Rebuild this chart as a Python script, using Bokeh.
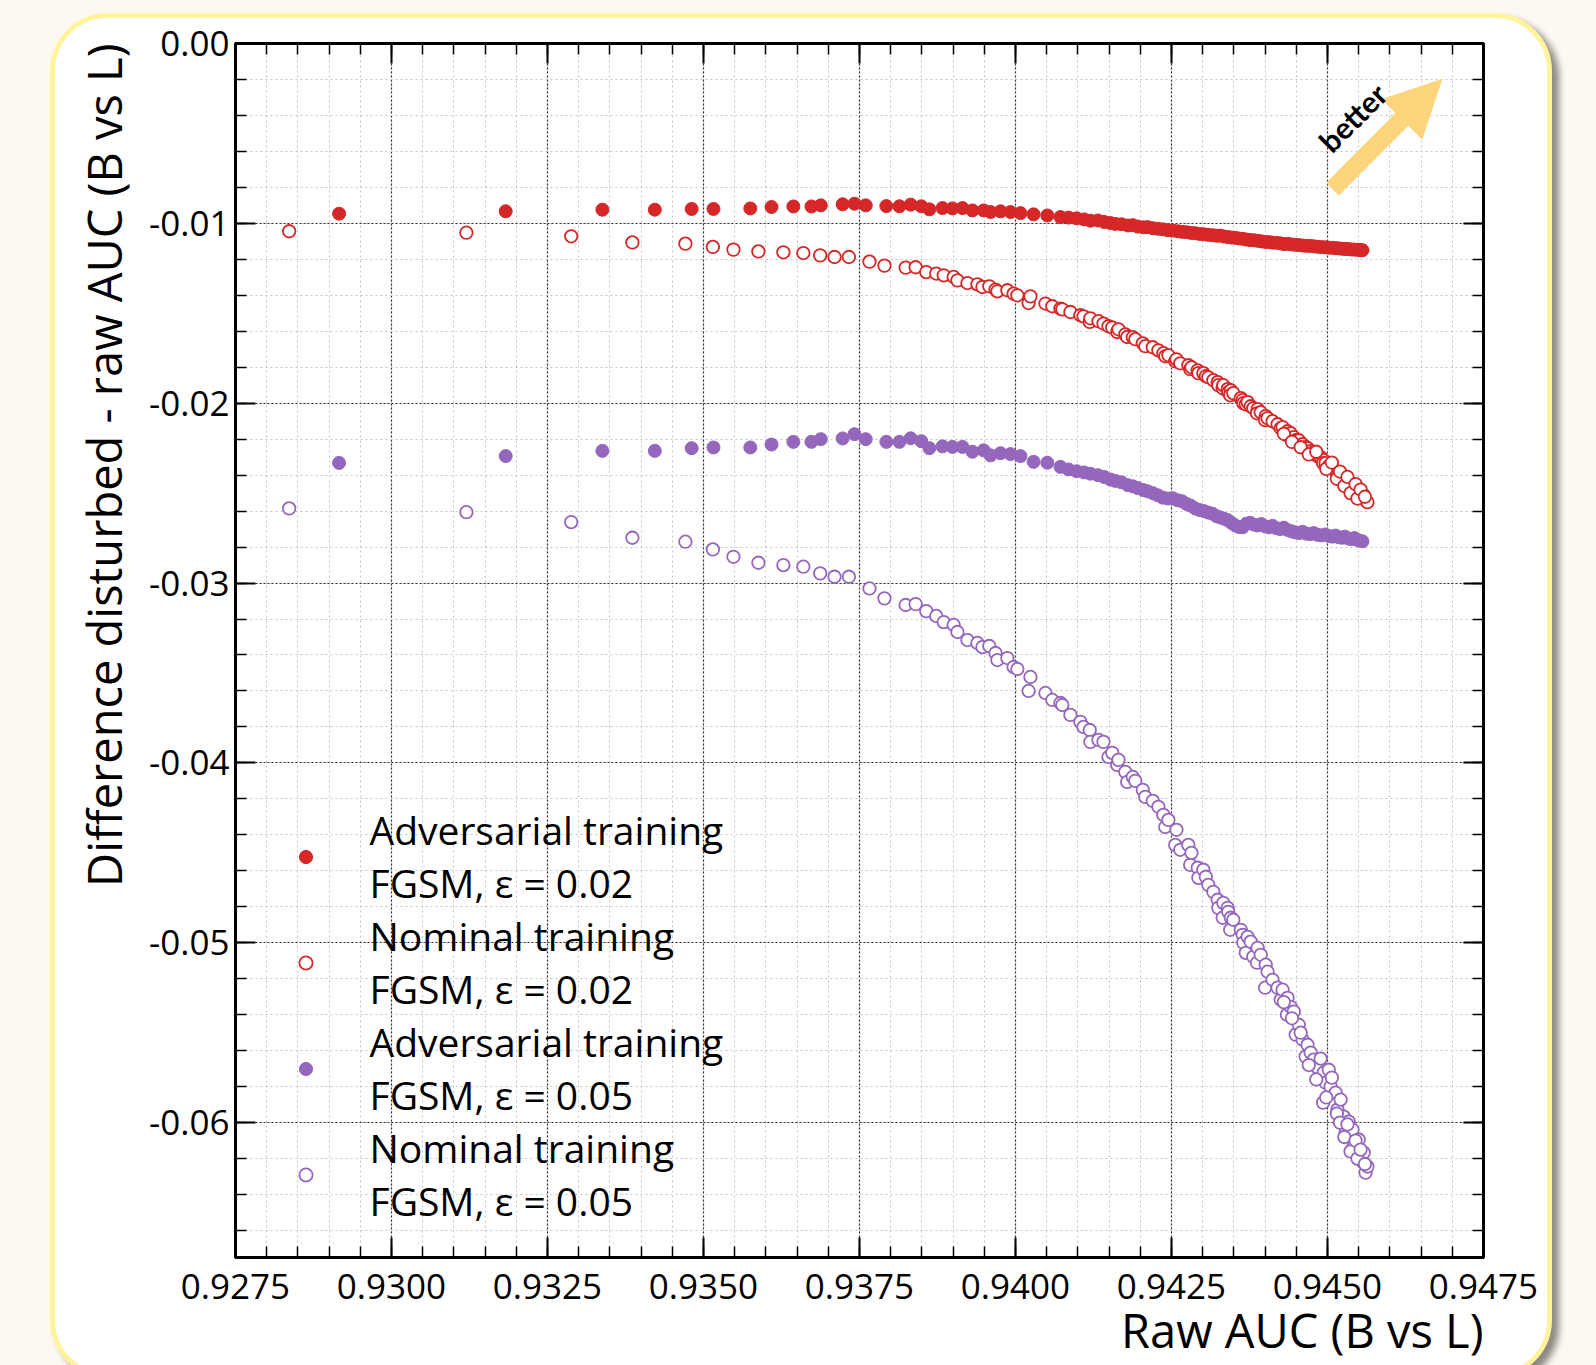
import math
from bokeh.plotting import figure
from bokeh.models import (Range1d, LinearAxis, SingleIntervalTicker, PrintfTickFormatter,
                          Label, Arrow, NormalHead, Legend, LegendItem, Title, CustomLabelingPolicy)
from bokeh.layouts import column
from bokeh.embed import file_html
from bokeh.resources import INLINE

RED = "#d62728"
PURPLE = "#9467bd"

# ---------------- data ----------------
x_adv = [0.92916, 0.93183, 0.93338, 0.93422, 0.93481, 0.93516, 0.93575, 0.93609, 0.93644, 0.93673,
         0.93688, 0.93723, 0.93742, 0.93760,
         0.93793, 0.93814, 0.93832, 0.93849, 0.93862, 0.93883, 0.93899, 0.93915, 0.93931, 0.93949,
         0.93960, 0.93976, 0.93992, 0.94008, 0.94029, 0.94051, 0.94072,
         0.94085, 0.94098, 0.94110, 0.94120, 0.94132, 0.94142, 0.94152, 0.94160, 0.94170, 0.94180,
         0.94188, 0.94196, 0.94205, 0.94212, 0.94220, 0.94228, 0.94236, 0.94244, 0.94252, 0.94260,
         0.94267, 0.94274, 0.94281, 0.94288, 0.94295, 0.94302, 0.94309, 0.94316, 0.94322, 0.94328,
         0.94334, 0.94340, 0.94346, 0.94352, 0.94358, 0.94364, 0.94370, 0.94376, 0.94382, 0.94388,
         0.94394, 0.94400, 0.94406, 0.94412, 0.94418, 0.94424, 0.94430, 0.94436, 0.94442, 0.94448,
         0.94454, 0.94460, 0.94466, 0.94472, 0.94478, 0.94484, 0.94490, 0.94496, 0.94502, 0.94508,
         0.94513, 0.94518, 0.94523, 0.94528, 0.94533, 0.94538, 0.94543, 0.94548, 0.94552, 0.94556]

y_adv_002 = [-0.00946, -0.00933, -0.00924, -0.00924, -0.00920, -0.00920, -0.00917, -0.00909, -0.00906, -0.00906,
             -0.00900, -0.00894, -0.00891, -0.00900,
             -0.00904, -0.00905, -0.00896, -0.00905, -0.00922, -0.00915, -0.00917, -0.00915, -0.00928, -0.00928,
             -0.00937, -0.00933, -0.00937, -0.00943, -0.00950, -0.00956, -0.00965,
             -0.00968, -0.00972, -0.00978, -0.00985, -0.00984, -0.00992, -0.00998, -0.01003, -0.01005, -0.01012,
             -0.01010, -0.01018, -0.01022, -0.01021, -0.01027, -0.01030, -0.01033, -0.01038, -0.01040, -0.01044,
             -0.01047, -0.01049, -0.01053, -0.01055, -0.01059, -0.01061, -0.01064, -0.01066, -0.01069, -0.01068,
             -0.01073, -0.01076, -0.01079, -0.01080, -0.01084, -0.01086, -0.01090, -0.01093, -0.01094, -0.01097,
             -0.01100, -0.01103, -0.01104, -0.01107, -0.01108, -0.01111, -0.01115, -0.01114, -0.01117, -0.01119,
             -0.01121, -0.01123, -0.01125, -0.01125, -0.01128, -0.01130, -0.01132, -0.01133, -0.01135, -0.01136,
             -0.01138, -0.01139, -0.01141, -0.01142, -0.01143, -0.01145, -0.01146, -0.01147, -0.01148, -0.01149]

y_adv_005 = [-0.02332, -0.02294, -0.02265, -0.02265, -0.02250, -0.02246, -0.02246, -0.02230, -0.02215, -0.02215,
             -0.02200, -0.02196, -0.02172, -0.02200,
             -0.02215, -0.02215, -0.02195, -0.02211, -0.02250, -0.02240, -0.02243, -0.02243, -0.02270, -0.02262,
             -0.02290, -0.02278, -0.02283, -0.02294, -0.02326, -0.02331, -0.02354,
             -0.02368, -0.02378, -0.02385, -0.02392, -0.02400, -0.02410, -0.02424, -0.02432, -0.02440, -0.02456,
             -0.02462, -0.02472, -0.02483, -0.02490, -0.02500, -0.02512, -0.02525, -0.02530, -0.02528, -0.02540,
             -0.02545, -0.02560, -0.02570, -0.02585, -0.02594, -0.02600, -0.02608, -0.02615, -0.02628, -0.02635,
             -0.02642, -0.02650, -0.02665, -0.02680, -0.02688, -0.02690, -0.02670, -0.02665, -0.02675, -0.02680,
             -0.02672, -0.02685, -0.02690, -0.02682, -0.02695, -0.02700, -0.02692, -0.02705, -0.02712, -0.02718,
             -0.02722, -0.02715, -0.02725, -0.02728, -0.02722, -0.02732, -0.02735, -0.02730, -0.02738, -0.02742,
             -0.02736, -0.02745, -0.02748, -0.02742, -0.02752, -0.02756, -0.02750, -0.02760, -0.02765, -0.02768]

x_nom = [0.92836, 0.93120, 0.93288, 0.93386, 0.93471, 0.93515, 0.93548, 0.93588, 0.93628, 0.93660,
         0.93687, 0.93710, 0.93733, 0.93766, 0.93790,
         0.93824, 0.93840, 0.93857, 0.93873, 0.93885, 0.93901, 0.93907, 0.93923, 0.93939, 0.93947,
         0.93958, 0.93968, 0.93971, 0.93987, 0.93997, 0.94003, 0.94021, 0.94024, 0.94048, 0.94059,
         0.94072, 0.94075, 0.94088, 0.94104, 0.94109, 0.94119, 0.94120, 0.94133, 0.94141, 0.94149,
         0.94155, 0.94163, 0.94165, 0.94176, 0.94179, 0.94188, 0.94192, 0.94204, 0.94208, 0.94220,
         0.94229, 0.94237, 0.94240, 0.94245, 0.94256, 0.94258, 0.94264, 0.94277, 0.94280, 0.94282,
         0.94292, 0.94293, 0.94301, 0.94305, 0.94309, 0.94317, 0.94324, 0.94325, 0.94332, 0.94333,
         0.94340, 0.94341, 0.94345, 0.94344, 0.94349, 0.94361, 0.94364, 0.94365, 0.94369, 0.94372,
         0.94377, 0.94381, 0.94388, 0.94387, 0.94393, 0.94401, 0.94400, 0.94404, 0.94412, 0.94420,
         0.94425, 0.94428, 0.94436, 0.94435, 0.94441, 0.94446, 0.94449, 0.94454, 0.94460, 0.94465,
         0.94468, 0.94473, 0.94478, 0.94484, 0.94489, 0.94494, 0.94493, 0.94497, 0.94502, 0.94505,
         0.94513, 0.94516, 0.94521, 0.94526, 0.94529, 0.94534, 0.94540, 0.94542, 0.94550, 0.94556,
         0.94558, 0.94561, 0.94564,
         0.94430, 0.94443, 0.94457, 0.94470, 0.94482, 0.94498, 0.94507, 0.94515, 0.94520, 0.94527,
         0.94532, 0.94537, 0.94545, 0.94548, 0.94553, 0.94560]

y_nom_002 = [-0.01044, -0.01052, -0.01072, -0.01106, -0.01113, -0.01131, -0.01146, -0.01156, -0.01161, -0.01165,
             -0.01178, -0.01187, -0.01187, -0.01213, -0.01235,
             -0.01246, -0.01244, -0.01271, -0.01279, -0.01289, -0.01298, -0.01317, -0.01332, -0.01339, -0.01354,
             -0.01350, -0.01368, -0.01378, -0.01372, -0.01391, -0.01400, -0.01443, -0.01406, -0.01446, -0.01461,
             -0.01474, -0.01478, -0.01493, -0.01511, -0.01517, -0.01548, -0.01528, -0.01544, -0.01557, -0.01572,
             -0.01579, -0.01604, -0.01589, -0.01617, -0.01632, -0.01633, -0.01644, -0.01667, -0.01683, -0.01689,
             -0.01706, -0.01722, -0.01739, -0.01733, -0.01767, -0.01756, -0.01778, -0.01789, -0.01811, -0.01800,
             -0.01817, -0.01833, -0.01833, -0.01850, -0.01856, -0.01872, -0.01883, -0.01900, -0.01917, -0.01900,
             -0.01922, -0.01939, -0.01928, -0.01956, -0.01944, -0.01972, -0.01983, -0.02000, -0.02006, -0.01994,
             -0.02017, -0.02028, -0.02033, -0.02056, -0.02050, -0.02072, -0.02094, -0.02083, -0.02100, -0.02117,
             -0.02139, -0.02133, -0.02156, -0.02178, -0.02167, -0.02189, -0.02206, -0.02206, -0.02228, -0.02244,
             -0.02250, -0.02267, -0.02272, -0.02294, -0.02300, -0.02317, -0.02333, -0.02333, -0.02350, -0.02361,
             -0.02378, -0.02400, -0.02406, -0.02428, -0.02439, -0.02456, -0.02472, -0.02483, -0.02506, -0.02522,
             -0.02511, -0.02539, -0.02550,
             -0.02170, -0.02215, -0.02245, -0.02285, -0.02270, -0.02365, -0.02330, -0.02420, -0.02380, -0.02460,
             -0.02410, -0.02500, -0.02450, -0.02530, -0.02480, -0.02520]

y_nom_005 = [-0.02585, -0.02606, -0.02661, -0.02748, -0.02770, -0.02813, -0.02854, -0.02887, -0.02900, -0.02909,
             -0.02946, -0.02965, -0.02965, -0.03030, -0.03085,
             -0.03122, -0.03117, -0.03156, -0.03183, -0.03217, -0.03233, -0.03272, -0.03317, -0.03333, -0.03356,
             -0.03350, -0.03389, -0.03428, -0.03417, -0.03467, -0.03478, -0.03600, -0.03522, -0.03611, -0.03650,
             -0.03667, -0.03678, -0.03733, -0.03772, -0.03800, -0.03817, -0.03883, -0.03872, -0.03883, -0.03967,
             -0.03944, -0.04011, -0.03983, -0.04050, -0.04106, -0.04078, -0.04100, -0.04150, -0.04189, -0.04211,
             -0.04244, -0.04289, -0.04356, -0.04317, -0.04456, -0.04372, -0.04483, -0.04456, -0.04567, -0.04500,
             -0.04583, -0.04639, -0.04594, -0.04633, -0.04678, -0.04717, -0.04761, -0.04806, -0.04861, -0.04778,
             -0.04806, -0.04828, -0.04861, -0.04928, -0.04872, -0.04928, -0.04956, -0.05000, -0.05056, -0.04967,
             -0.04994, -0.05078, -0.05028, -0.05111, -0.05067, -0.05122, -0.05250, -0.05161, -0.05206, -0.05250,
             -0.05317, -0.05261, -0.05306, -0.05400, -0.05356, -0.05383, -0.05511, -0.05456, -0.05539, -0.05633,
             -0.05567, -0.05611, -0.05650, -0.05694, -0.05644, -0.05722, -0.05889, -0.05778, -0.05706, -0.05800,
             -0.05833, -0.05928, -0.05872, -0.05967, -0.06056, -0.05994, -0.06039, -0.06133, -0.06094, -0.06217,
             -0.06167, -0.06278, -0.06244,
             -0.05330, -0.05420, -0.05500, -0.05680, -0.05760, -0.05860, -0.05750, -0.05950, -0.06000, -0.06080,
             -0.06010, -0.06160, -0.06100, -0.06200, -0.06150, -0.06230]

legend_labels = ["Adversarial training\nFGSM, ε = 0.02",
                 "Nominal training\nFGSM, ε = 0.02",
                 "Adversarial training\nFGSM, ε = 0.05",
                 "Nominal training\nFGSM, ε = 0.05"]

x_label = "Raw AUC (B vs L)"
y_label = "Difference disturbed - raw AUC (B vs L)"

# ---------------- figure ----------------
FONT = "Open Sans"
p = figure(width=1502, height=1365,
           x_range=Range1d(0.9275, 0.9475), y_range=Range1d(-0.0675, 0.0),
           output_backend="svg", toolbar_location=None,
           min_border_left=180, min_border_right=74, min_border_top=25, min_border_bottom=126)
p.background_fill_color = "white"
p.border_fill_color = "white"
p.outline_line_color = "black"
p.outline_line_width = 3

p.xaxis.ticker = SingleIntervalTicker(interval=0.0025, num_minor_ticks=5)
p.yaxis.ticker = SingleIntervalTicker(interval=0.01, num_minor_ticks=5)
p.xaxis.formatter = PrintfTickFormatter(format="%.4f")
p.yaxis.formatter = PrintfTickFormatter(format="%.2f")

hide_all = CustomLabelingPolicy(code="for (const i of indices) indices.unset(i)\nreturn indices")


def style_axis(ax, labels=True):
    ax.axis_line_width = 3
    ax.axis_line_color = "black"
    ax.major_tick_in = 20
    ax.major_tick_out = 0
    ax.minor_tick_in = 11
    ax.minor_tick_out = 0
    ax.major_tick_line_width = 2
    ax.minor_tick_line_width = 1.5
    ax.major_tick_line_color = "black"
    ax.minor_tick_line_color = "black"
    if labels:
        ax.major_label_text_font = FONT
        ax.major_label_text_font_size = "35px"
        ax.major_label_text_color = "black"
    else:
        ax.major_label_text_font_size = "1px"
        ax.major_label_standoff = 0
        ax.major_label_policy = hide_all


for ax in p.xaxis + p.yaxis:
    style_axis(ax)
p.xaxis.major_label_standoff = 16
p.yaxis.major_label_standoff = 6

top = LinearAxis(ticker=SingleIntervalTicker(interval=0.0025, num_minor_ticks=5))
right = LinearAxis(ticker=SingleIntervalTicker(interval=0.01, num_minor_ticks=5))
style_axis(top, labels=False)
style_axis(right, labels=False)
p.add_layout(top, "above")
p.add_layout(right, "right")

for g in (p.xgrid, p.ygrid):
    g.grid_line_color = "#333333"
    g.grid_line_dash = "2 2"
    g.grid_line_width = 1.2
    g.minor_grid_line_color = "#c4c4c4"
    g.minor_grid_line_dash = "2 3"
    g.minor_grid_line_width = 1

r1 = p.scatter(x_adv, y_adv_002, marker="circle", size=13, fill_color=RED, line_color=RED, line_width=1)
r2 = p.scatter(x_nom, y_nom_002, marker="circle", size=12.5, fill_color="white", line_color=RED, line_width=1.8)
r3 = p.scatter(x_adv, y_adv_005, marker="circle", size=13, fill_color=PURPLE, line_color=PURPLE, line_width=1)
r4 = p.scatter(x_nom, y_nom_005, marker="circle", size=12.5, fill_color="white", line_color=PURPLE, line_width=1.8)

legend = Legend(items=[LegendItem(label=legend_labels[i], renderers=[r]) for i, r in enumerate([r1, r2, r3, r4])],
                location=(53.5, 30), orientation="vertical",
                label_text_font=FONT, label_text_font_size="39px", label_text_color="black",
                glyph_width=33, glyph_height=33, label_standoff=48, spacing=-1,
                padding=0, margin=0, border_line_color=None, background_fill_alpha=0)
p.add_layout(legend)

# axis labels, aligned to the end of each axis
p.add_layout(Title(text=x_label, align="right", text_font=FONT, text_font_size="47px",
                   text_font_style="normal", text_color="black", standoff=-12), "below")
p.add_layout(Title(text=y_label, align="right", text_font=FONT, text_font_size="47px",
                   text_font_style="normal", text_color="black", standoff=21), "left")

# "better" arrow
ARROW = "#fed47c"
p.add_layout(Arrow(x_start=0.94508, y_start=-0.0081, x_end=0.94683, y_end=-0.0020,
                   line_color=ARROW, line_width=18,
                   end=NormalHead(size=56, fill_color=ARROW, line_color=ARROW)))
p.add_layout(Label(x=0.9454, y=-0.0041, text="better", angle=math.pi / 4, text_align="center",
                   text_baseline="middle", text_font="Lato", text_font_style="bold",
                   text_font_size="30px", text_color="black"))

p.margin = (13, 0, 0, 50)
p.styles = {"border-radius": "58px", "border": "5px solid #fff49c",
            "box-shadow": "7px 6px 7px rgba(0,0,0,0.45)", "overflow": "hidden",
            "background-color": "white"}

root = column(p, width=1596, height=1365,
              styles={"background-color": "#fdf8f0", "overflow": "hidden"})

open("out.html", "w").write(file_html(root, INLINE))
